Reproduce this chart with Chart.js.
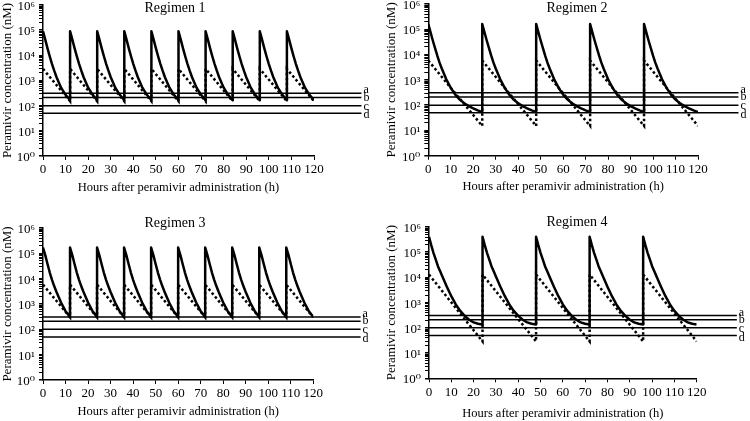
<!DOCTYPE html>
<html>
<head>
<meta charset="utf-8">
<script src="https://cdn.jsdelivr.net/npm/chart.js@4.4.0/dist/chart.umd.min.js"></script>
<style>
html,body{margin:0;padding:0;background:#fff;width:750px;height:421px;overflow:hidden;position:relative;}
canvas{position:absolute;display:block;}
</style>
</head>
<body>
<canvas id="c1" width="375" height="210" style="left:0;top:0;width:375px;height:210px"></canvas>
<canvas id="c2" width="375" height="210" style="left:375px;top:0;width:375px;height:210px"></canvas>
<canvas id="c3" width="375" height="211" style="left:0;top:210px;width:375px;height:211px"></canvas>
<canvas id="c4" width="375" height="211" style="left:375px;top:210px;width:375px;height:211px"></canvas>
<script>
// ---------------- DATA ----------------
const regimenTitles = ['Regimen 1', 'Regimen 2', 'Regimen 3', 'Regimen 4'];
const xAxisTitle = 'Hours after peramivir administration (h)';
const yAxisTitle = 'Peramivir concentration (nM)';
const hourTickStep = 10;
const hourMax = 120;
const concMin = 1;
const concMax = 1e6;
const yMajorTicks = [1, 10, 100, 1000, 10000, 100000, 1000000];
const yTickLabels = ['10\u2070', '10\u00B9', '10\u00B2', '10\u00B3', '10\u2074', '10\u2075', '10\u2076'];

// reference concentration lines (nM) and their labels
const thresholdLabels = ['a', 'b', 'c', 'd'];
const thresholdValues = [310, 210, 100, 50];

// every-12-hour dosing: sampling hours (solid curve)
const q12hHours = [
  0, 1, 2, 3, 4, 5, 6, 8, 10, 12,
  12, 13, 14, 15, 16, 17, 18, 20, 22, 24,
  24, 25, 26, 27, 28, 29, 30, 32, 34, 36,
  36, 37, 38, 39, 40, 41, 42, 44, 46, 48,
  48, 49, 50, 51, 52, 53, 54, 56, 58, 60,
  60, 61, 62, 63, 64, 65, 66, 68, 70, 72,
  72, 73, 74, 75, 76, 77, 78, 80, 82, 84,
  84, 85, 86, 87, 88, 89, 90, 92, 94, 96,
  96, 97, 98, 99, 100, 101, 102, 104, 106, 108,
  108, 109, 110, 111, 112, 113, 114, 116, 118, 120
];
// Regimen 1 total concentration (solid)
const reg1Total = [
  90000, 42000, 19000, 9000, 4500, 2400, 1350, 520, 270, 165,
  90000, 42000, 19000, 9000, 4500, 2400, 1350, 520, 270, 165,
  90000, 42000, 19000, 9000, 4500, 2400, 1350, 520, 270, 165,
  90000, 42000, 19000, 9000, 4500, 2400, 1350, 520, 270, 165,
  90000, 42000, 19000, 9000, 4500, 2400, 1350, 520, 270, 165,
  90000, 42000, 19000, 9000, 4500, 2400, 1350, 520, 270, 165,
  90000, 42000, 19000, 9000, 4500, 2400, 1350, 520, 270, 165,
  90000, 42000, 19000, 9000, 4500, 2400, 1350, 520, 270, 165,
  90000, 42000, 19000, 9000, 4500, 2400, 1350, 520, 270, 165,
  90000, 42000, 19000, 9000, 4500, 2400, 1350, 520, 270, 165
];
// Regimen 3 total concentration (solid)
const reg3Total = [
  170000, 85000, 38000, 17500, 9000, 5000, 3000, 1150, 520, 310,
  170000, 85000, 38000, 17500, 9000, 5000, 3000, 1150, 520, 310,
  170000, 85000, 38000, 17500, 9000, 5000, 3000, 1150, 520, 310,
  170000, 85000, 38000, 17500, 9000, 5000, 3000, 1150, 520, 310,
  170000, 85000, 38000, 17500, 9000, 5000, 3000, 1150, 520, 310,
  170000, 85000, 38000, 17500, 9000, 5000, 3000, 1150, 520, 310,
  170000, 85000, 38000, 17500, 9000, 5000, 3000, 1150, 520, 310,
  170000, 85000, 38000, 17500, 9000, 5000, 3000, 1150, 520, 310,
  170000, 85000, 38000, 17500, 9000, 5000, 3000, 1150, 520, 310,
  170000, 85000, 38000, 17500, 9000, 5000, 3000, 1150, 520, 310
];
// every-12-hour dosing: dotted curve hours
const q12hDottedHours = [0, 12, 12, 24, 24, 36, 36, 48, 48, 60, 60, 72, 72, 84, 84, 96, 96, 108, 108, 120];
const reg1Dotted = [2900, 150, 2900, 150, 2900, 150, 2900, 150, 2900, 150, 2900, 150, 2900, 150, 2900, 150, 2900, 150, 2900, 150];
const reg3Dotted = [5800, 300, 5800, 300, 5800, 300, 5800, 300, 5800, 300, 5800, 300, 5800, 300, 5800, 300, 5800, 300, 5800, 300];

// every-24-hour dosing: sampling hours (solid curve)
const q24hHours = [
  0, 1, 2, 3, 4, 5, 6, 8, 10, 12, 14, 16, 18, 20, 22, 24,
  24, 25, 26, 27, 28, 29, 30, 32, 34, 36, 38, 40, 42, 44, 46, 48,
  48, 49, 50, 51, 52, 53, 54, 56, 58, 60, 62, 64, 66, 68, 70, 72,
  72, 73, 74, 75, 76, 77, 78, 80, 82, 84, 86, 88, 90, 92, 94, 96,
  96, 97, 98, 99, 100, 101, 102, 104, 106, 108, 110, 112, 114, 116, 118, 120
];
// Regimen 2 total concentration (solid)
const reg2Total = [
  160000, 75000, 36000, 18000, 9000, 4800, 2800, 1050, 480, 260, 165, 118, 92, 75, 62, 53,
  160000, 75000, 36000, 18000, 9000, 4800, 2800, 1050, 480, 260, 165, 118, 92, 75, 62, 53,
  160000, 75000, 36000, 18000, 9000, 4800, 2800, 1050, 480, 260, 165, 118, 92, 75, 62, 53,
  160000, 75000, 36000, 18000, 9000, 4800, 2800, 1050, 480, 260, 165, 118, 92, 75, 62, 53,
  160000, 75000, 36000, 18000, 9000, 4800, 2800, 1050, 480, 260, 165, 118, 92, 75, 62, 53
];
// Regimen 4 total concentration (solid)
const reg4Total = [
  410000, 190000, 95000, 52000, 28000, 17500, 11000, 4300, 1800, 850, 470, 300, 210, 165, 145, 135,
  410000, 190000, 95000, 52000, 28000, 17500, 11000, 4300, 1800, 850, 470, 300, 210, 165, 145, 135,
  410000, 190000, 95000, 52000, 28000, 17500, 11000, 4300, 1800, 850, 470, 300, 210, 165, 145, 135,
  410000, 190000, 95000, 52000, 28000, 17500, 11000, 4300, 1800, 850, 470, 300, 210, 165, 145, 135,
  410000, 190000, 95000, 52000, 28000, 17500, 11000, 4300, 1800, 850, 470, 300, 210, 165, 145, 135
];
// every-24-hour dosing: dotted curve hours
const q24hDottedHours = [0, 24, 24, 48, 48, 72, 72, 96, 96, 120];
const reg2Dotted = [5800, 15, 5800, 15, 5800, 15, 5800, 15, 5800, 15];
const reg4Dotted = [13000, 29, 13000, 29, 13000, 29, 13000, 29, 13000, 29];

// hour where the reference lines stop (they run past the x axis)
const thresholdEndHour = [141, 138, 141, 138];

// ---------------- CHARTS ----------------
const SERIF = '"Liberation Serif", "Times New Roman", "DejaVu Serif", serif';
Chart.defaults.font.family = SERIF;
Chart.defaults.color = '#000';

// full set of log tick positions: majors plus 2..9 x each decade
const yAllTicks = [];
yMajorTicks.forEach((m, i) => {
  yAllTicks.push({value: m, major: true, label: yTickLabels[i]});
  if (i < yMajorTicks.length - 1) {
    for (let s = 2; s <= 9; s++) yAllTicks.push({value: m * s, major: false, label: ''});
  }
});

const panelSpecs = [
  {id: 'c1', hours: q12hHours, total: reg1Total, dHours: q12hDottedHours, dotted: reg1Dotted,
   pad: {left: 0, top: 5, right: 61, bottom: 14.5}, yW: 43, xH: 39.5, titleX: 175, titleY: 8},
  {id: 'c2', hours: q24hHours, total: reg2Total, dHours: q24hDottedHours, dotted: reg2Dotted,
   pad: {left: 9, top: 4, right: 52, bottom: 15.5}, yW: 44.3, xH: 38.8, titleX: 202, titleY: 8},
  {id: 'c3', hours: q12hHours, total: reg3Total, dHours: q12hDottedHours, dotted: reg3Dotted,
   pad: {left: 0, top: 18, right: 61.7, bottom: 1.5}, yW: 43, xH: 39.5, titleX: 175, titleY: 13},
  {id: 'c4', hours: q24hHours, total: reg4Total, dHours: q24hDottedHours, dotted: reg4Dotted,
   pad: {left: 9, top: 17, right: 53.3, bottom: 0.2}, yW: 45, xH: 42.5, titleX: 202, titleY: 12}
];

const labelShift = [-3, 0, 1, 2];

const annotPlugin = {
  id: 'annot',
  afterDraw(chart, args, opts) {
    const {ctx} = chart;
    const xs = chart.scales.x, ys = chart.scales.y;
    ctx.save();
    ctx.fillStyle = '#000';
    ctx.font = '14px ' + SERIF;
    ctx.textAlign = 'center';
    ctx.textBaseline = 'middle';
    ctx.fillText(opts.title, opts.titleX, opts.titleY);
    ctx.font = '12px ' + SERIF;
    ctx.textAlign = 'left';
    const lx = xs.getPixelForValue(opts.endHour) + 2;
    thresholdLabels.forEach((lab, i) => {
      ctx.fillText(lab, lx, ys.getPixelForValue(thresholdValues[i]) + labelShift[i]);
    });
    ctx.restore();
  }
};

panelSpecs.forEach((p, k) => {
  const totalPts = p.hours.map((h, i) => ({x: h, y: p.total[i]}));
  const dottedPts = p.dHours.map((h, i) => ({x: h, y: p.dotted[i]}));
  const refSets = thresholdValues.map(v => ({
    data: [{x: 0, y: v}, {x: thresholdEndHour[k], y: v}],
    borderColor: '#000', borderWidth: 1.5, pointRadius: 0, clip: false, order: 2
  }));
  new Chart(document.getElementById(p.id), {
    type: 'line',
    data: {
      datasets: [
        {data: totalPts, borderColor: '#000', borderWidth: 2.5, pointRadius: 0, tension: 0,
         borderJoinStyle: 'round', order: 0},
        {data: dottedPts, borderColor: '#000', borderWidth: 2.5, borderDash: [2.5, 2.5],
         pointRadius: 0, tension: 0, order: 1},
        ...refSets
      ]
    },
    options: {
      responsive: false,
      animation: false,
      devicePixelRatio: 1,
      layout: {padding: p.pad},
      plugins: {
        legend: {display: false},
        tooltip: {enabled: false},
        annot: {title: regimenTitles[k], titleX: p.titleX, titleY: p.titleY, endHour: thresholdEndHour[k]}
      },
      scales: {
        x: {
          type: 'linear', min: 0, max: hourMax,
          border: {color: '#000', width: 1.5},
          grid: {display: true, drawOnChartArea: false, drawTicks: true, tickLength: 4, color: '#000', lineWidth: 1},
          ticks: {stepSize: hourTickStep, padding: 2, font: {size: 13}, color: '#000', maxRotation: 0, autoSkip: false},
          title: {display: true, text: xAxisTitle, font: {size: 12.5}, padding: 0, color: '#000'},
          afterFit(s) { s.height = p.xH; s.paddingLeft = 0; s.paddingRight = 0; s.paddingTop = 0; s.paddingBottom = 0; }
        },
        y: {
          type: 'logarithmic', min: concMin, max: concMax,
          border: {color: '#000', width: 1.5},
          grid: {display: true, drawOnChartArea: false, drawTicks: true, tickLength: 4, color: '#000',
                 lineWidth: c => (c.tick && c.tick.major) ? 1.5 : 1},
          afterBuildTicks(s) {
            s.ticks = yAllTicks.map(t => ({value: t.value, major: t.major}));
          },
          ticks: {
            autoSkip: false, padding: 4, font: {size: 13}, color: '#000', labelOffset: 1.5,
            callback: (v, i) => yAllTicks[i] ? yAllTicks[i].label : ''
          },
          title: {display: true, text: yAxisTitle, font: {size: 13}, padding: 0, color: '#000'},
          afterFit(s) { s.width = p.yW; s.paddingLeft = 0; s.paddingRight = 0; s.paddingTop = 0; s.paddingBottom = 0; }
        }
      }
    },
    plugins: [annotPlugin]
  });
});
</script>
</body>
</html>
